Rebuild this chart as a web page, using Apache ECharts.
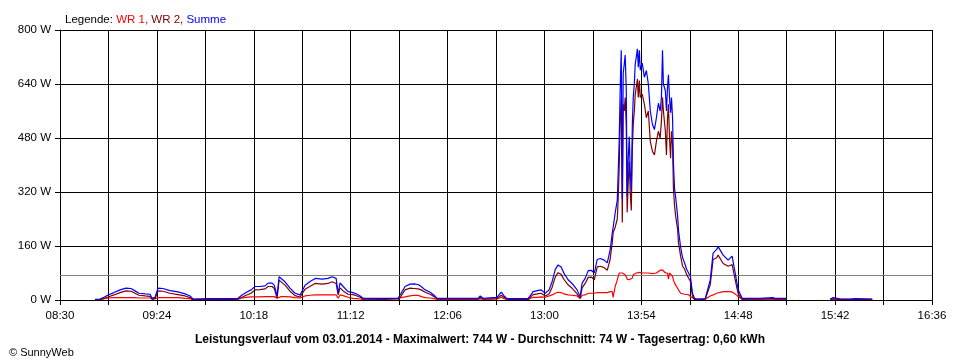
<!DOCTYPE html>
<html>
<head>
<meta charset="utf-8">
<script src="https://cdn.jsdelivr.net/npm/echarts@6/dist/echarts.min.js"></script>
<style>
html,body{margin:0;padding:0;background:#fff;}
#chart{width:960px;height:360px;}
</style>
</head>
<body>
<div id="chart"></div>
<script>
// minutes after 08:30
var minutes = [19.5,22.3,24.5,26.8,30.1,33.5,36.8,39.6,41.8,44.0,47.4,50.2,51.3,53.0,54.6,57.4,61.3,65.8,69.7,72.5,74.1,83.6,94.8,99.2,
101.5,103.7,106.5,108.7,111.5,114.3,116.0,118.2,119.4,121.0,122.1,123.2,125.4,128.2,131.0,133.8,134.9,136.6,139.4,142.2,146.1,149.4,151.6,153.9,155.0,156.1,157.8,160.6,163.3,165.6,167.3,168.9,177.3,178.4,188.4,
190.1,192.3,195.1,197.3,199.6,201.3,203.5,206.3,208.5,210.2,223.0,233.0,234.2,235.8,243.6,245.9,247.5,249.2,260.9,263.7,266.0,268.2,270.4,272.6,274.3,276.0,277.6,279.3,281.0,283.2,285.4,288.2,289.9,291.0,292.7,294.4,296.1,297.8,
299.4,301.1,303.3,305.0,306.6,307.8,308.3,309.4,310.6,311.1,311.7,312.2,312.8,313.4,313.9,314.5,315.0,315.6,316.1,316.7,317.3,317.8,318.4,319.0,319.5,320.1,320.6,321.2,321.8,322.3,322.9,323.4,324.5,325.7,326.8,327.9,329.0,330.2,331.3,332.4,333.5,334.5,335.2,335.8,336.3,337.4,338.0,338.6,339.1,339.7,340.3,340.8,341.4,341.9,342.5,343.1,344.2,344.7,345.9,347.0,348.1,349.2,350.3,351.4,352.5,353.6,355.1,359.6,
360.7,362.4,364.0,366.0,366.8,369.6,372.4,374.6,376.3,378.0,380.2,390.0,397.3,398.5,404.7,410.0,
429.3,431.0,435.0,440.5,441.3,443.0,452.7];

var summe = [2,3,8,15,22,30,35,34,27,20,18,17,5,8,35,34,28,24,18,12,3,4,4,5,
15,22,30,40,40,42,50,50,44,12,69,66,54,35,20,15,10,44,55,64,62,64,69,64,20,51,40,25,22,17,12,5,5,6,5,
20,40,47,48,46,40,30,23,14,5,5,5,12,5,8,23,12,4,4,25,28,30,20,30,55,90,104,98,78,60,49,30,10,50,64,87,88,80,
120,123,118,110,148,198,215,257,296,376,480,620,740,300,672,700,726,622,306,420,484,380,326,524,600,642,700,720,744,690,740,681,702,660,680,640,560,520,505,540,583,560,600,740,640,620,560,632,667,600,555,600,540,405,330,306,250,207,157,125,110,92,94,69,20,5,3,4,
5,59,139,150,158,133,118,130,80,30,5,5,7,5,5,null,
3,7,3,3,7,4,3];

var wr1 = [1,1,4,6,7,7,7,7,7,6,6,6,3,4,7,7,7,7,5,4,2,2,2,3,
6,8,9,9,9,10,10,10,10,5,10,10,10,9,7,6,5,12,14,15,15,15,15,15,5,15,13,8,5,4,3,2,3,5,5,
7,9,12,14,14,10,7,6,4,2,2,2,4,2,3,8,4,2,2,8,8,9,8,12,15,20,23,22,18,15,14,12,5,14,15,20,20,20,
22,22,22,22,25,25,8,40,59,70,80,84,84,80,80,78,75,70,62,60,60,60,62,65,75,80,80,80,82,80,82,80,80,80,80,80,78,78,80,80,82,88,89,89,85,80,78,80,62,80,78,80,70,59,50,45,35,30,20,18,17,17,16,10,5,3,2,2,
3,12,15,20,25,25,25,24,18,10,3,2,3,2,2,null,
2,4,2,2,3,2,2];

var wr2 = [1,2,4,9,15,22,27,26,20,14,12,11,2,4,27,26,20,16,12,7,1,2,2,2,
8,14,20,30,31,33,40,40,34,6,59,56,44,26,13,9,5,32,41,49,47,49,54,49,15,36,27,17,16,12,8,3,2,1,0,
12,30,35,34,33,30,23,17,10,3,3,3,8,3,4,14,8,2,2,16,18,20,12,18,38,68,81,76,60,45,35,18,5,36,49,67,68,60,
98,100,96,88,120,170,200,215,240,300,400,530,600,230,580,560,600,520,260,350,410,320,265,450,520,560,610,630,655,600,650,600,610,580,540,560,470,440,430,470,500,480,530,600,560,500,430,540,580,480,420,500,460,330,280,250,210,170,130,100,92,76,78,55,12,2,1,2,
2,45,120,125,133,108,100,105,60,18,2,3,4,3,3,null,
1,3,1,1,4,2,1];

var average = 74;
var yTicks = [0,160,320,480,640,800];
var startMinute = 8*60+30;

function fmt(v){
  var m = startMinute + Math.round(v);
  var h = Math.floor(m/60), mm = m%60;
  return (h<10?'0':'')+h+':'+(mm<10?'0':'')+mm;
}
function pairs(arr){ return minutes.map(function(m,i){ return [m, arr[i]]; }); }

var FONT = 'Liberation Sans';
var chart = echarts.init(document.getElementById('chart'), null, {renderer:'canvas'});
chart.setOption({
  animation:false,
  backgroundColor:'#ffffff',
  textStyle:{fontFamily:FONT},
  title:[
    {left:60, top:9, text:'{k|Legende: }{a|WR 1, }{b|WR 2, }{c|Summe}',
     textStyle:{fontWeight:'normal', rich:{
       k:{color:'#000',fontSize:11.5,fontWeight:'normal',fontFamily:FONT},
       a:{color:'#ff0000',fontSize:11.5,fontWeight:'normal',fontFamily:FONT},
       b:{color:'#800000',fontSize:11.5,fontWeight:'normal',fontFamily:FONT},
       c:{color:'#0000ff',fontSize:11.5,fontWeight:'normal',fontFamily:FONT}}}},
    {left:'center', top:329, text:'Leistungsverlauf vom 03.01.2014 - Maximalwert: 744 W - Durchschnitt: 74 W - Tagesertrag: 0,60 kWh',
     textStyle:{color:'#000',fontSize:12,fontWeight:'bold',fontFamily:FONT}},
    {left:4, top:342, text:'© SunnyWeb', textStyle:{color:'#000',fontSize:11,fontWeight:'normal',fontFamily:FONT}}
  ],
  grid:{left:60, right:28, top:30, bottom:60, containLabel:false},
  xAxis:{
    type:'value', min:0, max:486, interval:27,
    axisLine:{show:true, lineStyle:{color:'#000',width:1}},
    axisTick:{show:true, length:5, lineStyle:{color:'#000'}},
    splitLine:{show:true, lineStyle:{color:'#000',width:1}},
    axisLabel:{color:'#000', fontSize:11.5, fontFamily:FONT, margin:10, showMinLabel:true, showMaxLabel:true,
      formatter:function(v){ return (Math.round(v)%54===0)? fmt(v) : ''; }}
  },
  yAxis:{
    type:'value', min:yTicks[0], max:yTicks[yTicks.length-1], interval:160,
    axisLine:{show:true, lineStyle:{color:'#000',width:1}},
    axisTick:{show:true, length:5, lineStyle:{color:'#000'}},
    splitLine:{show:true, lineStyle:{color:'#000',width:1}},
    axisLabel:{color:'#000', fontSize:11.5, fontFamily:FONT, margin:9, formatter:'{value} W'}
  },
  series:[
    {name:'WR 1', type:'line', data:pairs(wr1), showSymbol:false, connectNulls:false,
     lineStyle:{color:'#ff0000', width:1.2}, itemStyle:{color:'#ff0000'}, z:3,
     markLine:{silent:true, symbol:'none', label:{show:false},
       lineStyle:{color:'#808080', type:'solid', width:1},
       data:[{yAxis:average}], z:1}},
    {name:'WR 2', type:'line', data:pairs(wr2), showSymbol:false, connectNulls:false,
     lineStyle:{color:'#800000', width:1.2}, itemStyle:{color:'#800000'}, z:4},
    {name:'Summe', type:'line', data:pairs(summe), showSymbol:false, connectNulls:false,
     lineStyle:{color:'#0000ff', width:1.2}, itemStyle:{color:'#0000ff'}, z:5}
  ]
});
</script>
</body>
</html>
